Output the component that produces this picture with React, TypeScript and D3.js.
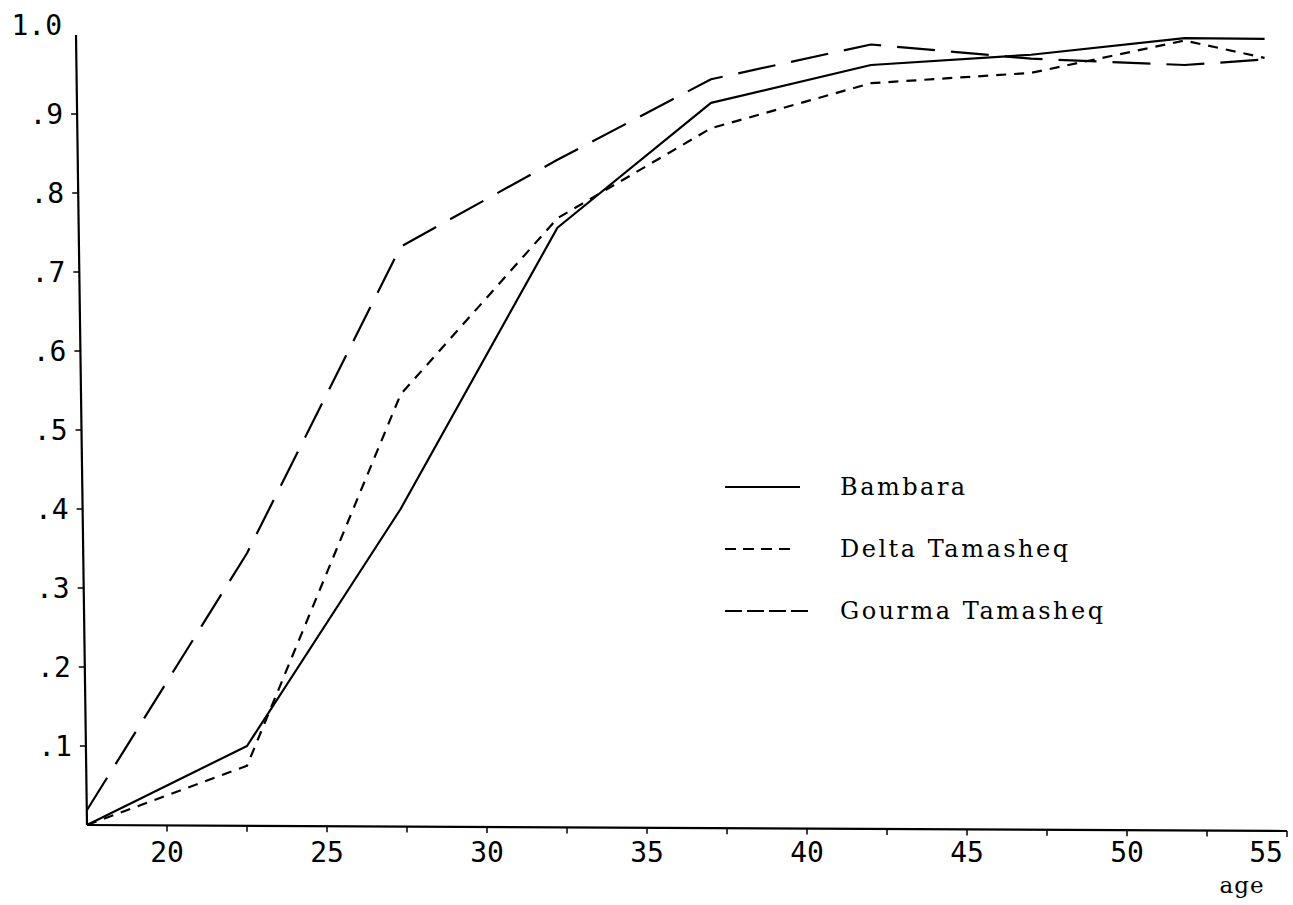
import React from "react";
import * as d3 from "d3";

// ---- data ----
const ages = [17.5, 22.5, 27.3, 32.2, 37.0, 42.0, 47.0, 51.8, 54.3];
const bambara = [0, 0.1, 0.4, 0.756, 0.914, 0.962, 0.975, 0.996, 0.995];
const deltaTamasheq = [0, 0.075, 0.545, 0.768, 0.882, 0.939, 0.952, 0.993, 0.971];
const gourmaTamasheq = [0.019, 0.344, 0.732, 0.842, 0.944, 0.988, 0.97, 0.962, 0.969];

const seriesNames = ["Bambara", "Delta Tamasheq", "Gourma Tamasheq"];
const yTickValues = [1.0, 0.9, 0.8, 0.7, 0.6, 0.5, 0.4, 0.3, 0.2, 0.1];
const yTickLabels = ["1.0", ".9", ".8", ".7", ".6", ".5", ".4", ".3", ".2", ".1"];
const xMinorTicks = [20, 22.5, 25, 27.5, 30, 32.5, 35, 37.5, 40, 42.5, 45, 47.5, 50, 52.5, 55];
const xTickLabels = [20, 25, 30, 35, 40, 45, 50, 55];
const xAxisTitle = "age";

const W = 1293;
const H = 905;

export default function App() {
  const x = d3.scaleLinear().domain([17.5, 55]).range([87, 1287]);
  const y = d3.scaleLinear().domain([0, 1]).range([825, 35]);

  // the hand-drawn y axis leans slightly
  const axisX = (v: number) => x(17.5) - 11 * v;

  const line = d3
    .line<[number, number]>()
    .x((d) => x(d[0]))
    .y((d) => y(d[1]));

  const series = [
    { name: seriesNames[0], values: bambara, dash: "none", legendDash: "none" },
    { name: seriesNames[1], values: deltaTamasheq, dash: "10 8", legendDash: "11 7" },
    { name: seriesNames[2], values: gourmaTamasheq, dash: "38 16", legendDash: "17 5" },
  ];

  const legendY = [487, 549, 611];
  const legendX1 = [725, 725, 725];
  const legendX2 = [800, 797, 810];

  const tickFont = "DejaVu Sans Mono";
  const typeFont = "DejaVu Serif";

  return (
    <svg
      width={W}
      height={H}
      viewBox={`0 0 ${W} ${H}`}
      style={{ position: "absolute", left: 0, top: 0, background: "#fff" }}
    >
      <rect x={0} y={0} width={W} height={H} fill="#fff" />

      {/* y axis */}
      <line
        x1={axisX(1)}
        y1={y(1)}
        x2={axisX(0)}
        y2={y(0)}
        stroke="#000"
        strokeWidth={2.2}
      />
      {yTickValues.map((v, i) => (
        <g key={"yt" + i}>
          {i > 0 && (
            <line
              x1={axisX(v) - 6}
              x2={axisX(v)}
              y1={y(v)}
              y2={y(v)}
              stroke="#000"
              strokeWidth={1.5}
            />
          )}
          <text
            x={axisX(v) - 14}
            y={y(v) + (i === 0 ? -10 : 0)}
            textAnchor="end"
            dominantBaseline="central"
            style={{ fontFamily: tickFont, fontSize: 28 }}
            fill="#000"
          >
            {yTickLabels[i]}
          </text>
        </g>
      ))}

      {/* x axis */}
      <line
        x1={x(17.5)}
        y1={y(0)}
        x2={x(55)}
        y2={y(0) + 6}
        stroke="#000"
        strokeWidth={2.2}
      />
      {xMinorTicks.map((t, i) => {
        const yy = y(0) + (6 * (t - 17.5)) / 37.5;
        return (
          <line
            key={"xt" + i}
            x1={x(t)}
            x2={x(t)}
            y1={yy}
            y2={yy + 6}
            stroke="#000"
            strokeWidth={1.5}
          />
        );
      })}
      {xTickLabels.map((t, i) => (
        <text
          key={"xl" + i}
          x={Math.min(x(t), W - 27)}
          y={852}
          textAnchor="middle"
          dominantBaseline="central"
          style={{ fontFamily: tickFont, fontSize: 28 }}
          fill="#000"
        >
          {t}
        </text>
      ))}
      <text
        x={x(55) - 45}
        y={893}
        textAnchor="middle"
        style={{ fontFamily: typeFont, fontSize: 23, letterSpacing: 1 }}
        fill="#000"
      >
        {xAxisTitle}
      </text>

      {/* series lines */}
      {series.map((s) => (
        <path
          key={s.name}
          d={line(ages.map((a, i) => [a, s.values[i]] as [number, number])) || ""}
          fill="none"
          stroke="#000"
          strokeWidth={2.2}
          strokeDasharray={s.dash}
          strokeLinejoin="round"
        />
      ))}

      {/* legend */}
      {series.map((s, i) => (
        <g key={"lg" + i}>
          <line
            x1={legendX1[i]}
            x2={legendX2[i]}
            y1={legendY[i]}
            y2={legendY[i]}
            stroke="#000"
            strokeWidth={2.2}
            strokeDasharray={s.legendDash}
          />
          <text
            x={840}
            y={legendY[i] + 8}
            style={{ fontFamily: typeFont, fontSize: 24, letterSpacing: 2.5 }}
            fill="#000"
          >
            {s.name}
          </text>
        </g>
      ))}
    </svg>
  );
}
